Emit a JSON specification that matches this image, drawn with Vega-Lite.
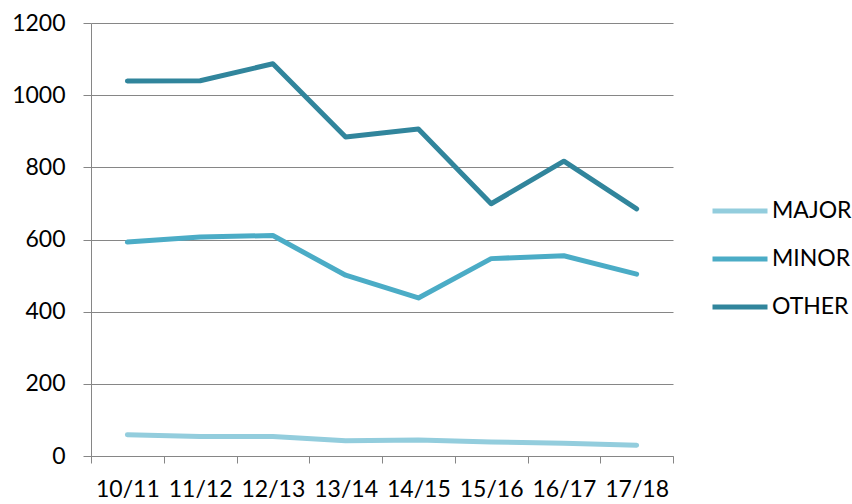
{
  "$schema": "https://vega.github.io/schema/vega-lite/v6.json",
  "autosize": "none",
  "width": 582,
  "height": 433,
  "padding": {"left": 91, "top": 23, "right": 179, "bottom": 48},
  "background": "white",
  "config": {
    "view": {"stroke": null},
    "font": "Lato",
    "axis": {"labelFont": "Lato", "labelFontSize": 23, "labelColor": "#000000", "domainColor": "#868686", "tickColor": "#868686", "gridColor": "#868686", "title": null}
  },
  "data": {
    "values": [
      {"year": "10/11", "series": "MAJOR", "value": 59},
      {"year": "11/12", "series": "MAJOR", "value": 54},
      {"year": "12/13", "series": "MAJOR", "value": 54},
      {"year": "13/14", "series": "MAJOR", "value": 42},
      {"year": "14/15", "series": "MAJOR", "value": 44},
      {"year": "15/16", "series": "MAJOR", "value": 39},
      {"year": "16/17", "series": "MAJOR", "value": 35},
      {"year": "17/18", "series": "MAJOR", "value": 30},
      {"year": "10/11", "series": "MINOR", "value": 593},
      {"year": "11/12", "series": "MINOR", "value": 607},
      {"year": "12/13", "series": "MINOR", "value": 611},
      {"year": "13/14", "series": "MINOR", "value": 501},
      {"year": "14/15", "series": "MINOR", "value": 438},
      {"year": "15/16", "series": "MINOR", "value": 547},
      {"year": "16/17", "series": "MINOR", "value": 555},
      {"year": "17/18", "series": "MINOR", "value": 504},
      {"year": "10/11", "series": "OTHER", "value": 1039},
      {"year": "11/12", "series": "OTHER", "value": 1040},
      {"year": "12/13", "series": "OTHER", "value": 1087},
      {"year": "13/14", "series": "OTHER", "value": 884},
      {"year": "14/15", "series": "OTHER", "value": 906},
      {"year": "15/16", "series": "OTHER", "value": 699},
      {"year": "16/17", "series": "OTHER", "value": 817},
      {"year": "17/18", "series": "OTHER", "value": 685}
    ]
  },
  "mark": {"type": "line", "strokeWidth": 5, "strokeCap": "round", "strokeJoin": "round"},
  "encoding": {
    "x": {
      "field": "year", "type": "ordinal",
      "scale": {"type": "band", "paddingInner": 0, "paddingOuter": 0},
      "axis": {"labelAngle": 0, "tickBand": "extent", "tickSize": 7, "labelPadding": 15, "grid": false, "domainWidth": 1}
    },
    "y": {
      "field": "value", "type": "quantitative",
      "scale": {"domain": [0, 1200], "nice": false},
      "axis": {"values": [0, 200, 400, 600, 800, 1000, 1200], "format": "d", "tickSize": 8, "labelPadding": 18, "grid": true, "gridWidth": 1}
    },
    "color": {
      "field": "series", "type": "nominal",
      "scale": {"domain": ["MAJOR", "MINOR", "OTHER"], "range": ["#93CDDD", "#4BACC6", "#31859C"]},
      "legend": {
        "title": null, "orient": "none", "legendX": 619, "legendY": 158,
        "symbolType": "stroke", "symbolSize": 3025, "symbolStrokeWidth": 5,
        "labelFont": "Lato", "labelFontSize": 23, "labelColor": "#000000", "labelOffset": 2, "rowPadding": 6
      }
    }
  }
}
